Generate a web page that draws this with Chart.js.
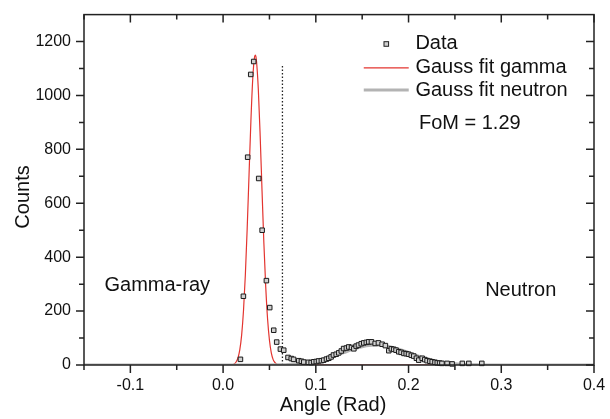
<!DOCTYPE html>
<html>
<head>
<meta charset="utf-8">
<script src="https://cdn.jsdelivr.net/npm/chart.js@4.4.1/dist/chart.umd.min.js"></script>
<style>
  html, body { margin: 0; padding: 0; background: #fff; }
</style>
</head>
<body>
<canvas id="psdChart" width="610" height="419"></canvas>
<script>
// measured histogram points (angle in rad, counts)
const dataAngle = [0.0187, 0.0219, 0.0265, 0.0298, 0.0330, 0.0384, 0.0421, 0.0467, 0.0503, 0.0546,
    0.0578, 0.0618, 0.0654, 0.0700, 0.0735, 0.0760, 0.0816, 0.0845, 0.0870, 0.0920, 0.0950, 0.0977,
    0.1005, 0.1030, 0.1060, 0.1085, 0.1115, 0.1140, 0.1165, 0.1190, 0.1220, 0.1247, 0.1275, 0.1300,
    0.1330, 0.1355, 0.1385, 0.1410, 0.1435, 0.1460, 0.1490, 0.1517, 0.1545, 0.1570, 0.1600, 0.1640,
    0.1675, 0.1715, 0.1750, 0.1787, 0.1815, 0.1840, 0.1865, 0.1894, 0.1920, 0.1950, 0.1975, 0.2000,
    0.2030, 0.2056, 0.2085, 0.2110, 0.2147, 0.2175, 0.2200, 0.2230, 0.2255, 0.2285, 0.2310, 0.2335,
    0.2360, 0.2416, 0.2470, 0.2580, 0.2650, 0.2790];
const dataCounts = [21, 255, 771, 1078, 1126, 692, 500, 313, 213, 129,
    85, 59, 55, 28, 24, 21, 16, 14, 11, 10, 9, 12,
    13, 15, 16, 18, 22, 25, 30, 37, 40, 45, 52, 61,
    63, 67, 65, 60, 70, 74, 79, 82, 84, 86, 86, 80,
    82, 77, 72, 53, 60, 58, 55, 49, 47, 43, 42, 40,
    36, 33, 25, 18, 25, 20, 16, 14, 12, 10, 8, 7,
    6, 6, 4, 6, 6, 6];

// gamma gaussian fit
const gammaFitAngle = [0.000, 0.010, 0.012, 0.014, 0.016, 0.018, 0.020, 0.022, 0.024, 0.026, 0.028,
    0.030, 0.032, 0.034, 0.035, 0.036, 0.038, 0.040, 0.042, 0.044, 0.046, 0.048, 0.050, 0.052,
    0.054, 0.056, 0.058, 0.060, 0.065, 0.260];
const gammaFitCounts = [0, 1, 4, 11, 26, 56, 111, 201, 334, 507, 708,
    906, 1063, 1144, 1150, 1129, 1022, 849, 646, 451, 289, 170, 92, 45,
    20, 9, 3, 1, 0, 0];

// neutron gaussian fit
const neutronFitAngle = [-0.15, 0.00, 0.04, 0.06, 0.07, 0.08, 0.09, 0.10, 0.11, 0.12, 0.13, 0.14,
    0.15, 0.16, 0.165, 0.17, 0.18, 0.19, 0.20, 0.21, 0.22, 0.23, 0.24, 0.25, 0.26, 0.27, 0.28, 0.40];
const neutronFitCounts = [0, 0, 0, 1, 2, 5, 9, 14, 23, 34, 46, 58,
    68, 73, 74, 73, 68, 58, 46, 34, 23, 14, 9, 5, 2, 1, 0, 0];

// dotted separation line
const cutAngle = [0.064, 0.064];
const cutCounts = [0, 1110];

const legendLabels = ['Data', 'Gauss fit gamma', 'Gauss fit neutron'];
const fomText = 'FoM = 1.29';
const regionLabels = ['Gamma-ray', 'Neutron'];

const toPoints = (xs, ys) => xs.map((x, i) => ({ x: x, y: ys[i] }));

const FONT = '"Liberation Sans", Arial, Helvetica, sans-serif';
const INK = '#111';
const RED = '#e3342f';
const GREY = '#b3b3b3';
const MARK_FILL = '#d0d0d0';

const isMajorX = v => Math.abs(Math.round(v * 20)) % 2 === 0;

// frame, ticks, text and legend
const decorPlugin = {
    id: 'decor',
    afterDatasetsDraw(chart) {
        const { ctx, chartArea: a, scales: { x, y } } = chart;
        ctx.save();
        ctx.strokeStyle = '#222';
        ctx.lineWidth = 1.5;
        ctx.strokeRect(a.left, a.top, a.right - a.left, a.bottom - a.top);

        ctx.beginPath();
        x.ticks.forEach(t => {
            const px = x.getPixelForValue(t.value);
            const len = isMajorX(t.value) ? 8 : 5;
            ctx.moveTo(px, a.bottom); ctx.lineTo(px, a.bottom + len);
            ctx.moveTo(px, a.top); ctx.lineTo(px, a.top + len);
        });
        y.ticks.forEach(t => {
            if (t.value > 1250) return;
            const py = y.getPixelForValue(t.value);
            const len = t.value % 200 === 0 ? 8 : 5;
            ctx.moveTo(a.left, py); ctx.lineTo(a.left - len, py);
            ctx.moveTo(a.right, py); ctx.lineTo(a.right - len, py);
        });
        ctx.stroke();

        ctx.fillStyle = INK;
        ctx.textBaseline = 'middle';
        ctx.textAlign = 'center';
        ctx.font = '20px ' + FONT;
        ctx.fillText(regionLabels[0], x.getPixelForValue(-0.071), y.getPixelForValue(295));
        ctx.fillText(regionLabels[1], x.getPixelForValue(0.321), y.getPixelForValue(276));

        // axis titles
        ctx.fillText('Angle (Rad)', a.left + 249, 405);
        ctx.save();
        ctx.translate(23, 197);
        ctx.rotate(-Math.PI / 2);
        ctx.fillText('Counts', 0, 0);
        ctx.restore();

        // legend
        ctx.textAlign = 'left';
        const rows = [1191, 1102, 1020];
        const lx0 = x.getPixelForValue(0.1517), lx1 = x.getPixelForValue(0.2002);
        const tx = x.getPixelForValue(0.2074);
        const r0 = y.getPixelForValue(rows[0]);
        const mx = x.getPixelForValue(0.176);
        ctx.fillStyle = MARK_FILL;
        ctx.fillRect(mx - 2.3, r0 - 2.3, 4.6, 4.6);
        ctx.strokeStyle = '#222';
        ctx.lineWidth = 1;
        ctx.strokeRect(mx - 2.3, r0 - 2.3, 4.6, 4.6);
        ctx.fillStyle = INK;
        ctx.fillText(legendLabels[0], tx, r0);

        const r1 = y.getPixelForValue(rows[1]);
        ctx.strokeStyle = RED; ctx.lineWidth = 1.2;
        ctx.beginPath(); ctx.moveTo(lx0, r1); ctx.lineTo(lx1, r1); ctx.stroke();
        ctx.fillText(legendLabels[1], tx, r1);

        const r2 = y.getPixelForValue(rows[2]);
        ctx.strokeStyle = GREY; ctx.lineWidth = 3;
        ctx.beginPath(); ctx.moveTo(lx0, r2); ctx.lineTo(lx1, r2); ctx.stroke();
        ctx.fillText(legendLabels[2], tx, r2);

        ctx.fillText(fomText, x.getPixelForValue(0.2112), y.getPixelForValue(896));
        ctx.restore();
    }
};

const ctx = document.getElementById('psdChart').getContext('2d');
new Chart(ctx, {
    type: 'scatter',
    data: {
        datasets: [
            {
                label: legendLabels[0],
                data: toPoints(dataAngle, dataCounts),
                pointStyle: 'rect',
                pointRadius: 3.2,
                borderWidth: 1,
                borderColor: '#1a1a1a',
                backgroundColor: MARK_FILL,
                clip: 6
            },
            {
                label: legendLabels[2],
                data: toPoints(neutronFitAngle, neutronFitCounts),
                showLine: true,
                pointRadius: 0,
                borderColor: GREY,
                borderWidth: 3,
                cubicInterpolationMode: 'monotone'
            },
            {
                label: legendLabels[1],
                data: toPoints(gammaFitAngle, gammaFitCounts),
                showLine: true,
                pointRadius: 0,
                borderColor: RED,
                borderWidth: 1.2,
                cubicInterpolationMode: 'monotone'
            },
            {
                label: 'cut',
                data: toPoints(cutAngle, cutCounts),
                showLine: true,
                pointRadius: 0,
                borderColor: '#222',
                borderWidth: 1.3,
                borderDash: [1.5, 2]
            }
        ]
    },
    options: {
        responsive: false,
        animation: false,
        devicePixelRatio: 1,
        layout: { padding: { top: 12, right: 16, left: 0, bottom: 0 } },
        plugins: { legend: { display: false }, tooltip: { enabled: false } },
        scales: {
            x: {
                type: 'linear',
                min: -0.15,
                max: 0.4,
                border: { display: false },
                grid: { drawOnChartArea: false, drawTicks: true, tickLength: 8, color: 'rgba(0,0,0,0)' },
                ticks: {
                    stepSize: 0.05,
                    autoSkip: false,
                    maxRotation: 0,
                    padding: 3,
                    color: INK,
                    font: { family: FONT, size: 16 },
                    callback: v => isMajorX(v) ? (Math.abs(v) < 1e-9 ? '0.0' : v.toFixed(1)) : ''
                },
                afterFit: s => { s.height = 54; }
            },
            y: {
                type: 'linear',
                min: 0,
                max: 1300,
                border: { display: false },
                grid: { drawOnChartArea: false, drawTicks: true, tickLength: 8, color: 'rgba(0,0,0,0)' },
                ticks: {
                    stepSize: 100,
                    autoSkip: false,
                    padding: 5,
                    color: INK,
                    font: { family: FONT, size: 16 },
                    callback: v => v % 200 === 0 ? String(v) : ''
                },
                afterFit: s => { s.width = 84; }
            }
        }
    },
    plugins: [decorPlugin]
});
</script>
</body>
</html>
